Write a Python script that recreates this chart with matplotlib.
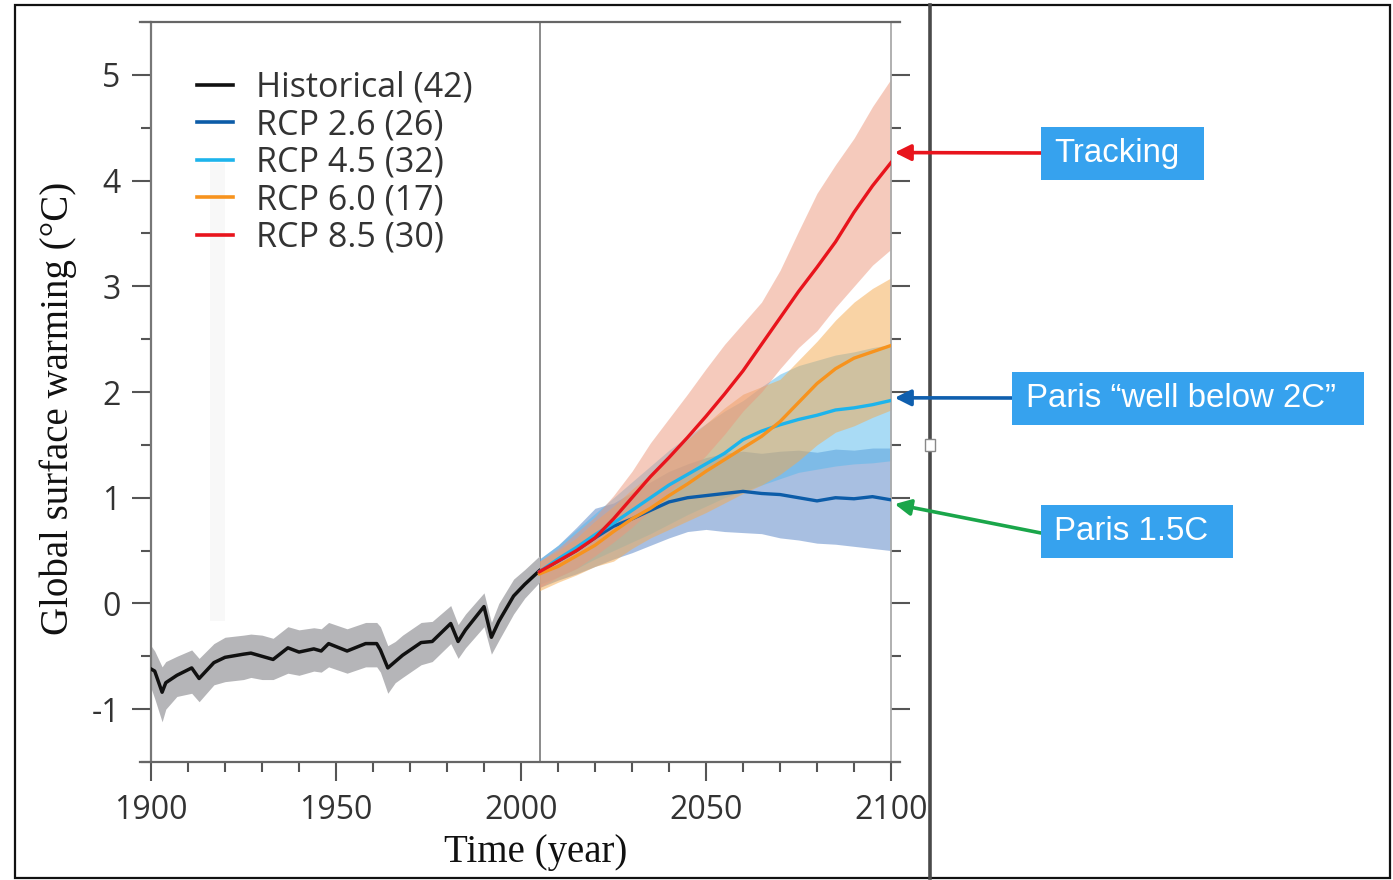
import matplotlib
matplotlib.use('Agg')
import matplotlib.pyplot as plt
from matplotlib.ticker import MultipleLocator
from matplotlib.patches import Rectangle
from matplotlib.lines import Line2D

plt.rcParams['font.family'] = 'Open Sans'
plt.rcParams['axes.unicode_minus'] = False

# historical multi-model mean and spread
hist_years = [1900, 1901, 1903, 1904, 1907, 1911, 1913, 1917, 1920, 1925, 1927, 1930,
              1933, 1937, 1940, 1944, 1946, 1948, 1953, 1958, 1961, 1962, 1964, 1966,
              1968, 1973, 1976, 1981, 1983, 1985, 1990, 1992, 1994, 1998, 2001, 2005]
hist_mean = [-0.62, -0.64, -0.84, -0.75, -0.68, -0.61, -0.71, -0.56, -0.51, -0.48, -0.47, -0.50,
             -0.53, -0.42, -0.46, -0.43, -0.45, -0.38, -0.45, -0.38, -0.38, -0.44, -0.61, -0.55,
             -0.49, -0.37, -0.36, -0.19, -0.36, -0.25, -0.03, -0.32, -0.17, 0.07, 0.18, 0.31]
hist_lo = [-0.80, -0.90, -1.12, -1.00, -0.88, -0.85, -0.93, -0.77, -0.74, -0.72, -0.70, -0.72,
           -0.72, -0.66, -0.68, -0.64, -0.65, -0.60, -0.66, -0.60, -0.60, -0.65, -0.85, -0.75,
           -0.70, -0.58, -0.55, -0.38, -0.52, -0.42, -0.22, -0.48, -0.35, -0.10, 0.05, 0.20]
hist_hi = [-0.40, -0.45, -0.60, -0.55, -0.50, -0.44, -0.52, -0.38, -0.32, -0.30, -0.29, -0.30,
           -0.33, -0.22, -0.25, -0.23, -0.24, -0.18, -0.24, -0.18, -0.18, -0.22, -0.40, -0.36,
           -0.30, -0.18, -0.17, -0.02, -0.20, -0.10, 0.10, -0.18, 0.00, 0.23, 0.32, 0.45]

# projections
proj_years = [2005, 2010, 2015, 2020, 2025, 2030, 2035, 2040, 2045, 2050,
              2055, 2060, 2065, 2070, 2075, 2080, 2085, 2090, 2095, 2100]

rcp26_mean = [0.30, 0.40, 0.50, 0.62, 0.73, 0.80, 0.88, 0.96, 1.00, 1.02,
              1.04, 1.06, 1.04, 1.03, 1.00, 0.97, 1.00, 0.99, 1.01, 0.98]
rcp26_lo = [0.15, 0.22, 0.28, 0.35, 0.42, 0.48, 0.55, 0.62, 0.68, 0.70,
            0.68, 0.67, 0.66, 0.62, 0.60, 0.57, 0.56, 0.54, 0.52, 0.50]
rcp26_hi = [0.42, 0.55, 0.72, 0.90, 0.95, 1.05, 1.15, 1.25, 1.32, 1.38,
            1.42, 1.44, 1.42, 1.44, 1.45, 1.43, 1.46, 1.45, 1.47, 1.47]

rcp45_mean = [0.30, 0.42, 0.53, 0.65, 0.76, 0.88, 1.00, 1.12, 1.22, 1.32,
              1.42, 1.55, 1.63, 1.69, 1.74, 1.78, 1.83, 1.85, 1.88, 1.92]
rcp45_lo = [0.18, 0.25, 0.33, 0.42, 0.50, 0.58, 0.66, 0.75, 0.84, 0.92,
            1.00, 1.06, 1.12, 1.18, 1.24, 1.27, 1.30, 1.32, 1.33, 1.35]
rcp45_hi = [0.42, 0.55, 0.70, 0.85, 1.00, 1.15, 1.30, 1.45, 1.58, 1.70,
            1.82, 1.92, 2.05, 2.17, 2.25, 2.30, 2.35, 2.38, 2.42, 2.45]

rcp60_mean = [0.28, 0.35, 0.45, 0.55, 0.68, 0.80, 0.90, 1.02, 1.13, 1.25,
              1.36, 1.47, 1.58, 1.72, 1.90, 2.08, 2.22, 2.32, 2.38, 2.44]
rcp60_lo = [0.12, 0.20, 0.27, 0.35, 0.40, 0.52, 0.62, 0.70, 0.78, 0.86,
            0.95, 1.04, 1.12, 1.22, 1.35, 1.50, 1.62, 1.68, 1.76, 1.83]
rcp60_hi = [0.40, 0.50, 0.62, 0.78, 0.92, 1.08, 1.22, 1.38, 1.55, 1.70,
            1.85, 1.98, 2.05, 2.12, 2.30, 2.48, 2.68, 2.85, 2.98, 3.08]

rcp85_mean = [0.30, 0.40, 0.50, 0.62, 0.80, 1.00, 1.20, 1.38, 1.57, 1.77,
              1.98, 2.20, 2.45, 2.70, 2.95, 3.18, 3.42, 3.70, 3.95, 4.17]
rcp85_lo = [0.15, 0.25, 0.33, 0.45, 0.58, 0.72, 0.88, 1.05, 1.22, 1.40,
            1.60, 1.82, 2.00, 2.22, 2.42, 2.58, 2.80, 3.00, 3.20, 3.35]
rcp85_hi = [0.40, 0.52, 0.67, 0.82, 1.02, 1.25, 1.52, 1.75, 1.98, 2.22,
            2.45, 2.65, 2.85, 3.15, 3.52, 3.88, 4.15, 4.40, 4.70, 4.96]

labels = ['Historical (42)', 'RCP 2.6 (26)', 'RCP 4.5 (32)', 'RCP 6.0 (17)', 'RCP 8.5 (30)']
line_colors = ['#111111', '#0c5ca8', '#1db4ec', '#f7931e', '#e8141c']
band_colors = ['#b5b5b8', '#5381c5', '#55b9ed', '#f5a94d', '#ed977b']

W, H = 1393, 880
fig = plt.figure(figsize=(W / 100, H / 100), dpi=100)
ax = fig.add_axes([151 / W, 1 - 762 / H, 740 / W, 740 / H])

ax.axvspan(1916, 1920, ymin=0.19, ymax=0.81, color='#f8f8f8', lw=0, zorder=0)
ax.axvline(2005, color='#8a8a8a', lw=1.4, zorder=0.5)

ax.fill_between(hist_years, hist_lo, hist_hi, color=band_colors[0], lw=0, zorder=1)
proj = [(rcp26_mean, rcp26_lo, rcp26_hi), (rcp45_mean, rcp45_lo, rcp45_hi),
        (rcp60_mean, rcp60_lo, rcp60_hi), (rcp85_mean, rcp85_lo, rcp85_hi)]
for i, (m, lo, hi) in enumerate(proj):
    ax.fill_between(proj_years, lo, hi, color=band_colors[i + 1], alpha=0.5, lw=0, zorder=1)

handles = []
h, = ax.plot(hist_years, hist_mean, color=line_colors[0], lw=2.5, zorder=3)
handles.append(h)
for i, (m, lo, hi) in enumerate(proj):
    h, = ax.plot(proj_years, m, color=line_colors[i + 1], lw=2.4, zorder=3)
    handles.append(h)

ax.set_xlim(1900, 2100)
ax.set_ylim(-1.5, 5.5)
ax.xaxis.set_major_locator(MultipleLocator(50))
ax.xaxis.set_minor_locator(MultipleLocator(10))
ax.yaxis.set_major_locator(MultipleLocator(1))
ax.yaxis.set_minor_locator(MultipleLocator(0.5))
ax.tick_params(axis='both', which='major', length=14, width=1.5, color='#555555',
               labelsize=23, labelcolor='#333333', direction='out')
ax.tick_params(axis='both', which='minor', length=7, width=1.5, color='#555555', direction='out')
ax.tick_params(axis='y', which='both', right=True, pad=8)
ax.tick_params(axis='x', which='both', pad=9)

for side in ['top', 'bottom']:
    ax.spines[side].set_visible(False)
ax.spines['left'].set_color('#777777')
ax.spines['left'].set_linewidth(1.6)
ax.spines['right'].set_color('#aaaaaa')
ax.spines['right'].set_linewidth(1.3)
for yy in [0, 1]:
    ax.add_line(Line2D([-0.015, 1.012], [yy, yy], transform=ax.transAxes, color='#666666',
                       lw=1.6, clip_on=False, zorder=4))

ax.set_ylabel('Global surface warming (°C)', family='Liberation Serif', fontsize=28, color='#111111')
ax.yaxis.set_label_coords(-0.10, 0.478)
ax.set_xlabel('Time (year)', family='Liberation Serif', fontsize=28, color='#111111')
ax.xaxis.set_label_coords(0.52, -0.097)

leg = ax.legend(handles, labels, loc='upper left', bbox_to_anchor=(0.062, 0.934), frameon=False,
                fontsize=24.5, handlelength=1.05, handletextpad=0.68, labelspacing=0.10,
                borderpad=0, borderaxespad=0)
for t in leg.get_texts():
    t.set_color('#333333')
for l in leg.get_lines():
    l.set_linewidth(2.6)

# slide frame and divider
fig.add_artist(Rectangle((15 / W, 2 / H), 1375 / W, 873 / H, transform=fig.transFigure,
                         fill=False, edgecolor='#111111', lw=1.6, zorder=-1))
fig.add_artist(Line2D([930 / W, 930 / W], [2 / H, 875 / H], transform=fig.transFigure,
                      color='#4a4a4a', lw=2.6, zorder=-1))
fig.add_artist(Rectangle((925 / W, 1 - 451 / H), 10 / W, 12 / H, transform=fig.transFigure,
                         facecolor='white', edgecolor='#888888', lw=1.0, zorder=2))

# callouts
callouts = [('Tracking', 1041, 127, 1204, 180, 1054, '#e8141c', 4.265, (1041, 153)),
            ('Paris \u201cwell below 2C\u201d', 1012, 372, 1364, 425, 1026, '#0f5fae', 1.945, (1012, 398)),
            ('Paris 1.5C', 1041, 505, 1233, 558, 1054, '#1aa64a', 0.94, (1041, 533))]
for text, x0, y0, x1, y1, tx, c, yv, start in callouts:
    fig.add_artist(Rectangle((x0 / W, 1 - y1 / H), (x1 - x0) / W, (y1 - y0) / H,
                             transform=fig.transFigure, facecolor='#36a2ee', lw=0, zorder=2))
    fig.text(tx / W, 1 - (y0 + y1) / 2 / H, text, color='white', fontsize=23.8,
             family='Liberation Sans', ha='left', va='center', zorder=3)
    ax.annotate('', xy=(2101, yv), xycoords='data', xytext=(start[0], H - start[1]),
                textcoords='figure pixels', annotation_clip=False,
                arrowprops=dict(arrowstyle='-|>', color=c, lw=2.6, mutation_scale=24,
                                shrinkA=0, shrinkB=0))

fig.savefig('out.png', dpi=100)
